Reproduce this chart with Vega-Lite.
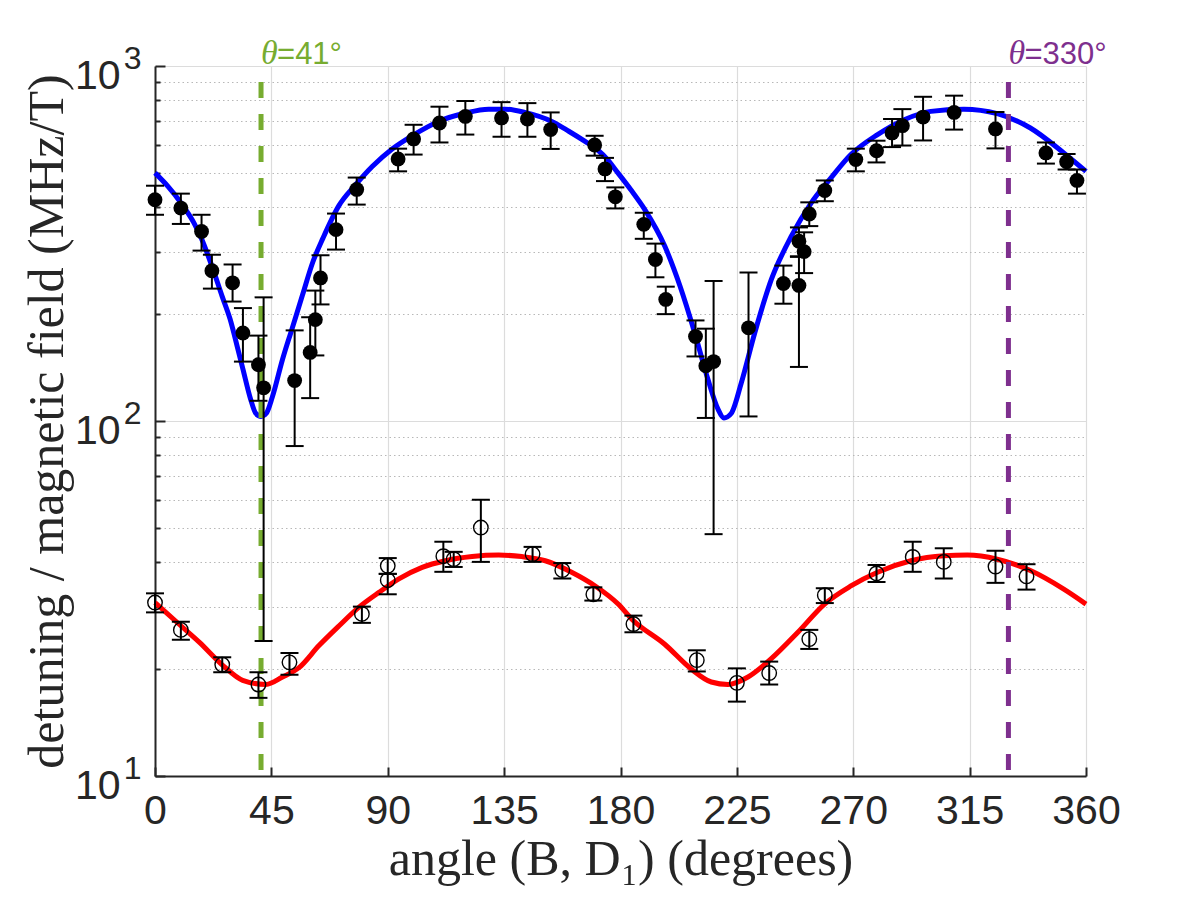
{
  "$schema": "https://vega.github.io/schema/vega-lite/v6.json",
  "width": 931,
  "height": 710,
  "autosize": {"type": "none"},
  "padding": {"left": 155, "top": 66, "right": 114, "bottom": 124},
  "background": "white",
  "config": {"view": {"stroke": null}},
  "datasets": {
    "upper": [
      {"angle": 0, "value": 420, "lo": 381, "hi": 460},
      {"angle": 10, "value": 398, "lo": 359, "hi": 437},
      {"angle": 18, "value": 342, "lo": 302, "hi": 381},
      {"angle": 22, "value": 265, "lo": 236, "hi": 294},
      {"angle": 30, "value": 245, "lo": 217, "hi": 276},
      {"angle": 34, "value": 177, "lo": 147, "hi": 208},
      {"angle": 40, "value": 144, "lo": 114, "hi": 174},
      {"angle": 42, "value": 124, "lo": 24, "hi": 223},
      {"angle": 54, "value": 130, "lo": 85, "hi": 180},
      {"angle": 60, "value": 156, "lo": 116, "hi": 196},
      {"angle": 62, "value": 193, "lo": 153, "hi": 233},
      {"angle": 64, "value": 253, "lo": 213, "hi": 293},
      {"angle": 70, "value": 346, "lo": 304, "hi": 384},
      {"angle": 78, "value": 449, "lo": 407, "hi": 485},
      {"angle": 94, "value": 547, "lo": 505, "hi": 585},
      {"angle": 100, "value": 623, "lo": 563, "hi": 683},
      {"angle": 110, "value": 691, "lo": 609, "hi": 768},
      {"angle": 120, "value": 721, "lo": 641, "hi": 797},
      {"angle": 134, "value": 714, "lo": 632, "hi": 791},
      {"angle": 144, "value": 709, "lo": 632, "hi": 786},
      {"angle": 153, "value": 662, "lo": 584, "hi": 740},
      {"angle": 170, "value": 599, "lo": 559, "hi": 636},
      {"angle": 174, "value": 513, "lo": 474, "hi": 551},
      {"angle": 178, "value": 428, "lo": 397, "hi": 455},
      {"angle": 189, "value": 358, "lo": 326, "hi": 386},
      {"angle": 193.5, "value": 285, "lo": 254, "hi": 316},
      {"angle": 197.5, "value": 220, "lo": 200, "hi": 239},
      {"angle": 209, "value": 173, "lo": 152, "hi": 192},
      {"angle": 213, "value": 143, "lo": 102, "hi": 182},
      {"angle": 216, "value": 147, "lo": 48, "hi": 248},
      {"angle": 229.5, "value": 183, "lo": 103, "hi": 262},
      {"angle": 243, "value": 244, "lo": 214, "hi": 274},
      {"angle": 249, "value": 321, "lo": 290, "hi": 351},
      {"angle": 251, "value": 300, "lo": 261, "hi": 340},
      {"angle": 249, "value": 241, "lo": 142, "hi": 291},
      {"angle": 253, "value": 383, "lo": 354, "hi": 413},
      {"angle": 259, "value": 446, "lo": 416, "hi": 476},
      {"angle": 271, "value": 545, "lo": 505, "hi": 585},
      {"angle": 279, "value": 577, "lo": 535, "hi": 616},
      {"angle": 285, "value": 648, "lo": 591, "hi": 709},
      {"angle": 289, "value": 679, "lo": 597, "hi": 756},
      {"angle": 297, "value": 718, "lo": 617, "hi": 819},
      {"angle": 309, "value": 740, "lo": 662, "hi": 825},
      {"angle": 325, "value": 665, "lo": 586, "hi": 742},
      {"angle": 344.5, "value": 569, "lo": 531, "hi": 609},
      {"angle": 352.5, "value": 537, "lo": 511, "hi": 565},
      {"angle": 356.5, "value": 476, "lo": 437, "hi": 511}
    ],
    "lower": [
      {"angle": 0, "value": 30.8, "lo": 28.9, "hi": 32.7},
      {"angle": 10, "value": 25.8, "lo": 24.2, "hi": 27.2},
      {"angle": 26, "value": 20.6, "lo": 19.6, "hi": 21.6},
      {"angle": 40, "value": 18.1, "lo": 16.6, "hi": 19.6},
      {"angle": 52, "value": 20.9, "lo": 19.3, "hi": 22.2},
      {"angle": 80, "value": 28.6, "lo": 27.0, "hi": 30.0},
      {"angle": 90, "value": 39.1, "lo": 37.1, "hi": 41.1},
      {"angle": 90, "value": 35.6, "lo": 32.5, "hi": 37.1},
      {"angle": 111.5, "value": 41.6, "lo": 37.6, "hi": 45.7},
      {"angle": 115.5, "value": 40.8, "lo": 38.8, "hi": 42.8},
      {"angle": 126, "value": 50.1, "lo": 40.1, "hi": 60},
      {"angle": 146, "value": 42.2, "lo": 40.1, "hi": 44.2},
      {"angle": 157.5, "value": 38.0, "lo": 36.0, "hi": 39.8},
      {"angle": 169.5, "value": 32.5, "lo": 31.2, "hi": 34.0},
      {"angle": 185, "value": 26.8, "lo": 25.4, "hi": 28.3},
      {"angle": 209.5, "value": 21.2, "lo": 19.7, "hi": 22.6},
      {"angle": 225, "value": 18.3, "lo": 16.2, "hi": 20.1},
      {"angle": 237.5, "value": 19.5, "lo": 18.1, "hi": 21.0},
      {"angle": 253, "value": 24.3, "lo": 22.8, "hi": 25.8},
      {"angle": 259, "value": 32.3, "lo": 30.7, "hi": 33.8},
      {"angle": 279, "value": 37.2, "lo": 35.2, "hi": 39.3},
      {"angle": 293, "value": 41.4, "lo": 37.6, "hi": 45.7},
      {"angle": 305, "value": 40.1, "lo": 36.0, "hi": 43.8},
      {"angle": 325, "value": 38.9, "lo": 35.0, "hi": 43.1},
      {"angle": 337, "value": 36.5, "lo": 33.5, "hi": 39.5}
    ],
    "fitBlue": [
      {"angle": 0, "value": 500}, {"angle": 5, "value": 458}, {"angle": 10, "value": 412},
      {"angle": 15, "value": 362}, {"angle": 18, "value": 326}, {"angle": 22, "value": 273},
      {"angle": 26, "value": 224}, {"angle": 29, "value": 194}, {"angle": 32, "value": 160},
      {"angle": 34, "value": 140}, {"angle": 37, "value": 115}, {"angle": 39, "value": 105},
      {"angle": 41, "value": 103}, {"angle": 43, "value": 105}, {"angle": 45.4, "value": 117},
      {"angle": 49.3, "value": 149}, {"angle": 53, "value": 182}, {"angle": 57, "value": 226},
      {"angle": 61, "value": 280}, {"angle": 65, "value": 328}, {"angle": 71, "value": 403},
      {"angle": 77.6, "value": 463}, {"angle": 84, "value": 521}, {"angle": 91.7, "value": 584},
      {"angle": 99.4, "value": 636}, {"angle": 109.7, "value": 698}, {"angle": 120, "value": 737},
      {"angle": 129, "value": 756}, {"angle": 135.4, "value": 756}, {"angle": 143, "value": 740},
      {"angle": 153.4, "value": 698}, {"angle": 160, "value": 655}, {"angle": 166.3, "value": 613},
      {"angle": 171.4, "value": 578}, {"angle": 175, "value": 545}, {"angle": 179, "value": 500},
      {"angle": 184, "value": 448}, {"angle": 189.4, "value": 394}, {"angle": 197.1, "value": 311},
      {"angle": 203, "value": 240}, {"angle": 208.7, "value": 177}, {"angle": 213.8, "value": 131},
      {"angle": 217.7, "value": 108}, {"angle": 220, "value": 102}, {"angle": 222.8, "value": 105},
      {"angle": 226.7, "value": 128}, {"angle": 231.9, "value": 177}, {"angle": 238.3, "value": 250},
      {"angle": 246, "value": 331}, {"angle": 253.7, "value": 411}, {"angle": 261.4, "value": 484},
      {"angle": 269.1, "value": 563}, {"angle": 279.4, "value": 641}, {"angle": 289.7, "value": 706},
      {"angle": 300, "value": 745}, {"angle": 312.8, "value": 756}, {"angle": 325.7, "value": 734},
      {"angle": 338.5, "value": 669}, {"angle": 351.4, "value": 569}, {"angle": 360, "value": 505}
    ],
    "fitRed": [
      {"angle": 0, "value": 30.8}, {"angle": 10, "value": 26.5}, {"angle": 17.2, "value": 23.8},
      {"angle": 26.2, "value": 20.5}, {"angle": 33.9, "value": 18.6}, {"angle": 42.9, "value": 18.1},
      {"angle": 49.3, "value": 19.0}, {"angle": 55.7, "value": 20.2}, {"angle": 63.4, "value": 23.3},
      {"angle": 71.2, "value": 26.5}, {"angle": 78.9, "value": 29.9}, {"angle": 86.6, "value": 32.9},
      {"angle": 94.3, "value": 35.9}, {"angle": 103.3, "value": 38.7}, {"angle": 112.3, "value": 40.4},
      {"angle": 122.6, "value": 41.5}, {"angle": 132.9, "value": 41.9}, {"angle": 141.8, "value": 41.5},
      {"angle": 150.9, "value": 40.4}, {"angle": 161.1, "value": 37.5}, {"angle": 170.2, "value": 34.3},
      {"angle": 179.1, "value": 30.5}, {"angle": 184.3, "value": 27.7}, {"angle": 197.1, "value": 23.5},
      {"angle": 207.4, "value": 20.0}, {"angle": 215.1, "value": 18.4}, {"angle": 221.6, "value": 18.1},
      {"angle": 229.3, "value": 19.0}, {"angle": 238.3, "value": 21.4}, {"angle": 248.6, "value": 25.4},
      {"angle": 258.9, "value": 30.5}, {"angle": 269.1, "value": 34.3}, {"angle": 279.4, "value": 37.5},
      {"angle": 292.3, "value": 40.4}, {"angle": 305.1, "value": 41.7}, {"angle": 314.1, "value": 41.9},
      {"angle": 325.7, "value": 40.8}, {"angle": 338.5, "value": 37.9}, {"angle": 351.4, "value": 33.6},
      {"angle": 360, "value": 30.5}
    ],
    "mark41": [{"angle": 41, "top": 1000, "sym": "θ", "label": "=41°"}],
    "mark330": [{"angle": 330, "top": 1000, "sym": "θ", "label": "=330°"}]
  },
  "resolve": {"scale": {"y": "shared"}, "axis": {"y": "independent"}},
  "layer": [
    {
      "data": {"name": "fitBlue"},
      "mark": {"type": "line", "color": "#0000ff", "strokeWidth": 5, "interpolate": "monotone"},
      "encoding": {
        "x": {"field": "angle", "type": "quantitative", "scale": {"domain": [0, 360], "nice": false},
              "axis": {"values": [0, 45, 90, 135, 180, 225, 270, 315, 360],
                       "grid": true, "gridColor": "#dcdcdc", "gridWidth": 1.2,
                       "domainColor": "#262626", "domainWidth": 2,
                       "tickColor": "#262626", "tickWidth": 2, "tickSize": -9,
                       "labelFont": "Liberation Sans", "labelFontSize": 41, "labelColor": "#262626",
                       "labelBaseline": "alphabetic", "labelPadding": 56, "labelFlush": false,
                       "labelOverlap": false,
                       "title": "angle (B, D₁) (degrees)",
                       "titleFont": "Liberation Serif", "titleFontSize": 50, "titleFontWeight": "normal",
                       "titleColor": "#262626", "titleBaseline": "alphabetic", "titleY": 98}},
        "y": {"field": "value", "type": "quantitative",
              "scale": {"type": "log", "domain": [10, 1000], "nice": false},
              "axis": {"orient": "left", "values": [10, 100, 1000], "labels": false,
                       "grid": true, "gridColor": "#dcdcdc", "gridWidth": 1.2,
                       "domainColor": "#262626", "domainWidth": 2,
                       "tickColor": "#262626", "tickWidth": 2, "tickSize": -10,
                       "title": "detuning / magnetic field (MHz/T)",
                       "titleFont": "Liberation Serif", "titleFontSize": 50, "titleFontWeight": "normal",
                       "titleColor": "#262626", "titleAngle": 270, "titleBaseline": "alphabetic",
                       "titleAlign": "center", "titleX": -93, "titleY": 355}}
      }
    },
    {
      "data": {"name": "fitRed"},
      "mark": {"type": "line", "color": "#ff0000", "strokeWidth": 5, "interpolate": "monotone"},
      "encoding": {
        "x": {"field": "angle", "type": "quantitative"},
        "y": {"field": "value", "type": "quantitative",
              "axis": {"orient": "left", "values": [20, 30, 40, 50, 60, 70, 80, 90, 200, 300, 400, 500, 600, 700, 800, 900],
                       "labels": false, "domain": false, "title": null,
                       "grid": true, "gridColor": "#b8b8b8", "gridWidth": 1, "gridDash": [1.5, 3],
                       "tickColor": "#262626", "tickWidth": 2, "tickSize": -5}}
      }
    },
    {
      "data": {"name": "mark41"},
      "mark": {"type": "rule", "color": "#77ac30", "strokeWidth": 5, "strokeDash": [16, 16], "strokeDashOffset": 16},
      "encoding": {"x": {"field": "angle", "type": "quantitative"}}
    },
    {
      "data": {"name": "mark330"},
      "mark": {"type": "rule", "color": "#7e2f8e", "strokeWidth": 5, "strokeDash": [16, 16], "strokeDashOffset": 16},
      "encoding": {"x": {"field": "angle", "type": "quantitative"}}
    },
    {
      "data": {"name": "mark41"},
      "mark": {"type": "text", "color": "#77ac30", "font": "Liberation Serif", "fontStyle": "italic",
               "fontSize": 34, "align": "left", "baseline": "alphabetic", "dy": -2, "dx": 0},
      "encoding": {
        "x": {"field": "angle", "type": "quantitative"},
        "y": {"field": "top", "type": "quantitative", "axis": null},
        "text": {"field": "sym"}
      }
    },
    {
      "data": {"name": "mark41"},
      "mark": {"type": "text", "color": "#77ac30", "font": "Liberation Sans",
               "fontSize": 31, "align": "left", "baseline": "alphabetic", "dy": -2, "dx": 16},
      "encoding": {
        "x": {"field": "angle", "type": "quantitative"},
        "y": {"field": "top", "type": "quantitative", "axis": null},
        "text": {"field": "label"}
      }
    },
    {
      "data": {"name": "mark330"},
      "mark": {"type": "text", "color": "#7e2f8e", "font": "Liberation Serif", "fontStyle": "italic",
               "fontSize": 34, "align": "left", "baseline": "alphabetic", "dy": -2, "dx": 0},
      "encoding": {
        "x": {"field": "angle", "type": "quantitative"},
        "y": {"field": "top", "type": "quantitative", "axis": null},
        "text": {"field": "sym"}
      }
    },
    {
      "data": {"name": "mark330"},
      "mark": {"type": "text", "color": "#7e2f8e", "font": "Liberation Sans",
               "fontSize": 31, "align": "left", "baseline": "alphabetic", "dy": -2, "dx": 16},
      "encoding": {
        "x": {"field": "angle", "type": "quantitative"},
        "y": {"field": "top", "type": "quantitative", "axis": null},
        "text": {"field": "label"}
      }
    },
    {
      "data": {"name": "upper"},
      "mark": {"type": "rule", "color": "black", "strokeWidth": 2},
      "encoding": {
        "x": {"field": "angle", "type": "quantitative"},
        "y": {"field": "lo", "type": "quantitative", "axis": null},
        "y2": {"field": "hi"}
      }
    },
    {
      "data": {"name": "upper"},
      "mark": {"type": "tick", "orient": "horizontal", "color": "black", "size": 18, "thickness": 2, "opacity": 1},
      "encoding": {
        "x": {"field": "angle", "type": "quantitative"},
        "y": {"field": "lo", "type": "quantitative", "axis": null}
      }
    },
    {
      "data": {"name": "upper"},
      "mark": {"type": "tick", "orient": "horizontal", "color": "black", "size": 18, "thickness": 2, "opacity": 1},
      "encoding": {
        "x": {"field": "angle", "type": "quantitative"},
        "y": {"field": "hi", "type": "quantitative", "axis": null}
      }
    },
    {
      "data": {"name": "lower"},
      "mark": {"type": "rule", "color": "black", "strokeWidth": 2},
      "encoding": {
        "x": {"field": "angle", "type": "quantitative"},
        "y": {"field": "lo", "type": "quantitative", "axis": null},
        "y2": {"field": "hi"}
      }
    },
    {
      "data": {"name": "lower"},
      "mark": {"type": "tick", "orient": "horizontal", "color": "black", "size": 18, "thickness": 2, "opacity": 1},
      "encoding": {
        "x": {"field": "angle", "type": "quantitative"},
        "y": {"field": "lo", "type": "quantitative", "axis": null}
      }
    },
    {
      "data": {"name": "lower"},
      "mark": {"type": "tick", "orient": "horizontal", "color": "black", "size": 18, "thickness": 2, "opacity": 1},
      "encoding": {
        "x": {"field": "angle", "type": "quantitative"},
        "y": {"field": "hi", "type": "quantitative", "axis": null}
      }
    },
    {
      "data": {"name": "upper"},
      "mark": {"type": "point", "shape": "circle", "filled": true, "color": "black", "size": 220, "opacity": 1},
      "encoding": {
        "x": {"field": "angle", "type": "quantitative"},
        "y": {"field": "value", "type": "quantitative",
              "axis": {"orient": "left", "values": [10, 100, 1000], "labelExpr": "'10'",
                       "domain": false, "ticks": false, "grid": false, "title": null,
                       "labelFont": "Liberation Sans", "labelFontSize": 41, "labelColor": "#262626",
                       "labelBaseline": "alphabetic", "labelAlign": "right", "labelPadding": 35,
                       "labelOffset": 22, "labelFlush": false}}
      }
    },
    {
      "data": {"name": "lower"},
      "mark": {"type": "point", "shape": "circle", "filled": false, "color": "black", "size": 210, "strokeWidth": 1.4, "opacity": 1},
      "encoding": {
        "x": {"field": "angle", "type": "quantitative"},
        "y": {"field": "value", "type": "quantitative",
              "axis": {"orient": "left", "values": [10, 100, 1000],
                       "labelExpr": "datum.value == 10 ? '1' : datum.value == 100 ? '2' : '3'",
                       "domain": false, "ticks": false, "grid": false, "title": null,
                       "labelFont": "Liberation Sans", "labelFontSize": 32, "labelColor": "#262626",
                       "labelBaseline": "alphabetic", "labelAlign": "right", "labelPadding": 14,
                       "labelOffset": 2, "labelFlush": false}}
      }
    }
  ]
}
